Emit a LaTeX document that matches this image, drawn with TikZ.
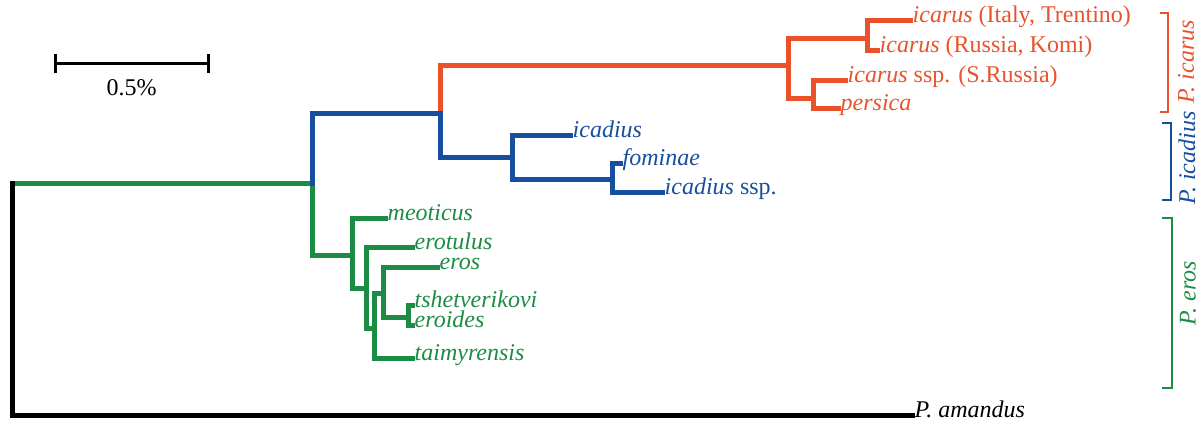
\documentclass[tikz,border=0pt]{standalone}
\usepackage{fontspec}
\setmainfont{Liberation Serif}
\definecolor{cor}{RGB}{233,82,42}
\definecolor{cbl}{RGB}{22,78,160}
\definecolor{cgr}{RGB}{28,140,68}
\tikzset{
  br/.style={line width=5pt, line cap=rect, line join=miter},
  lab/.style={anchor=west, inner xsep=2.5pt, inner ysep=0pt, font=\fontsize{24}{28}\selectfont, text height=0.68em, text depth=0.22em},
  brk/.style={line width=2.6pt},
  grp/.style={rotate=90, inner sep=0pt, font=\fontsize{24}{28}\selectfont\itshape},
}
\begin{document}
\begin{tikzpicture}[x=1pt,y=-1pt]
\path[use as bounding box] (0,0) rectangle (1202,429);
% internal nodes
\coordinate (root) at (12,183);
\coordinate (ing) at (312,183);
\coordinate (icl) at (440,113);
\coordinate (ica) at (788,65);
\coordinate (ic1) at (867,38);
\coordinate (ic2) at (813,98);
\coordinate (icd) at (512,157);
\coordinate (fom) at (612,179);
\coordinate (A) at (352,255);
\coordinate (B) at (366,288);
\coordinate (C) at (374,328);
\coordinate (D) at (383,293);
\coordinate (E) at (408,317);
% tip labels
\node[lab,text=cor] (t1) at (910,20) {\textit{icarus} (Italy, Trentino)};
\node[lab,text=cor] (t2) at (877,50) {\textit{icarus} (Russia, Komi)};
\node[lab,text=cor] (t3) at (845,80) {\textit{icarus} ssp. (S.Russia)};
\node[lab,text=cor] (t4) at (838,108) {\textit{persica}};
\node[lab,text=cbl] (t5) at (570,135) {\textit{icadius}};
\node[lab,text=cbl] (t6) at (620,163) {\textit{fominae}};
\node[lab,text=cbl] (t7) at (662,192) {\textit{icadius} ssp.};
\node[lab,text=cgr] (t8) at (385,218) {\textit{meoticus}};
\node[lab,text=cgr] (t9) at (412,247) {\textit{erotulus}};
\node[lab,text=cgr] (t10) at (437,267) {\textit{eros}};
\node[lab,text=cgr] (t11) at (412,305) {\textit{tshetverikovi}};
\node[lab,text=cgr] (t12) at (412,325) {\textit{eroides}};
\node[lab,text=cgr] (t13) at (412,358) {\textit{taimyrensis}};
\node[lab] (t14) at (912,415) {\textit{P. amandus}};
% green clade
\draw[br,cgr] (root) -- (ing);
\draw[br,cgr] (ing) |- (A);
\draw[br,cgr] (A) |- (t8.west);
\draw[br,cgr] (A) |- (B);
\draw[br,cgr] (B) |- (t9.west);
\draw[br,cgr] (B) |- (C);
\draw[br,cgr] (C) |- (D);
\draw[br,cgr] (C) |- (t13.west);
\draw[br,cgr] (D) |- (t10.west);
\draw[br,cgr] (D) |- (E);
\draw[br,cgr] (E) |- (t11.west);
\draw[br,cgr] (E) |- (t12.west);
% orange clade
\draw[br,cor] (icl) |- (ica);
\draw[br,cor] (ica) |- (ic1);
\draw[br,cor] (ica) |- (ic2);
\draw[br,cor] (ic1) |- (t1.west);
\draw[br,cor] (ic1) |- (t2.west);
\draw[br,cor] (ic2) |- (t3.west);
\draw[br,cor] (ic2) |- (t4.west);
% blue clade
\draw[br,cbl] (ing) |- (icl);
\draw[br,cbl] (icl) |- (icd);
\draw[br,cbl] (icd) |- (t5.west);
\draw[br,cbl] (icd) |- (fom);
\draw[br,cbl] (fom) |- (t6.west);
\draw[br,cbl] (fom) |- (t7.west);
% outgroup
\draw[br,black] (root) |- (t14.west);
% scale bar
\coordinate (s1) at (55,63);
\coordinate (s2) at (208,63);
\draw[line width=3pt] (s1) -- (s2);
\draw[line width=3pt] ([yshift=-9.5pt]s1) -- ([yshift=9.5pt]s1);
\draw[line width=3pt] ([yshift=-9.5pt]s2) -- ([yshift=9.5pt]s2);
\node[font=\fontsize{24}{28}\selectfont, inner sep=0pt] (sl) at (131.5,88) {0.5\%};
% group brackets
\draw[brk,cor] (1160,13) -- (1168,13) -- (1168,112) -- (1160,112);
\node[grp,text=cor] (g1) at (1186,62) {P. icarus};
\draw[brk,cbl] (1162,123) -- (1171,123) -- (1171,200) -- (1162,200);
\node[grp,text=cbl] (g2) at (1187,158) {P. icadius};
\draw[brk,cgr] (1162,218) -- (1172,218) -- (1172,388) -- (1162,388);
\node[grp,text=cgr] (g3) at (1188,293) {P. eros};
\end{tikzpicture}
\end{document}
